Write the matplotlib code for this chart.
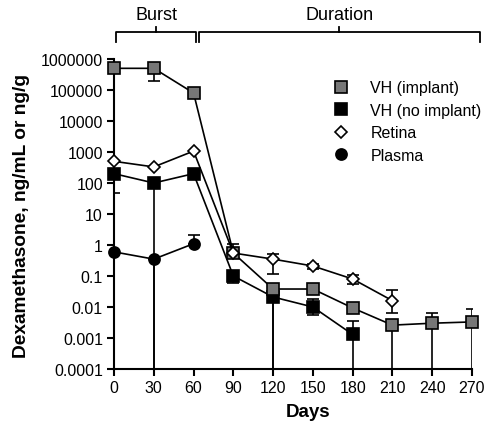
import numpy as np
import matplotlib
matplotlib.use("Agg")
import matplotlib.pyplot as plt
import matplotlib.transforms as mtrans
from matplotlib.ticker import FixedLocator, FixedFormatter, NullLocator

plt.rcParams['font.family'] = ['Liberation Sans', 'DejaVu Sans']

# VH (implant)
vh_imp_days = [0, 30, 60, 90, 120, 150, 180, 210, 240, 270]
vh_imp = [5.0e5, 5.0e5, 8.0e4, 0.55, 0.038, 0.038, 0.0093, 0.0026, 0.003, 0.0033]
vh_imp_lo = [5.0e5, 2.0e5, 8.0e4, 0.55, 1e-6, 0.038, 0.0093, 1e-6, 1e-6, 1e-6]
vh_imp_hi = [1.25e6, 5.0e5, 8.0e4, 0.55, 0.038, 0.038, 0.0093, 0.0026, 0.0065, 0.0086]

# VH (no implant)
vh_no_days = [0, 30, 60, 90, 120, 150, 180]
vh_no = [200, 100, 200, 0.1, 0.021, 0.010, 0.0013]
vh_no_lo = [48, 1e-6, 200, 0.06, 1e-6, 0.0055, 1e-6]
vh_no_hi = [200, 100, 200, 0.1, 0.021, 0.018, 0.0035]

# Retina
ret_days = [0, 30, 60, 90, 120, 150, 180, 210]
ret = [500, 330, 1070, 0.55, 0.35, 0.21, 0.08, 0.016]
ret_lo = [500, 330, 1070, 0.55, 0.12, 0.17, 0.057, 0.0065]
ret_hi = [500, 330, 1070, 1.1, 0.5, 0.25, 0.11, 0.035]

# Plasma
pl_days = [0, 30, 60]
pl = [0.6, 0.35, 1.1]
pl_lo = [1e-6, 1e-6, 1.1]
pl_hi = [0.6, 0.35, 2.1]

ytick_vals = [1e-4, 1e-3, 1e-2, 1e-1, 1, 10, 100, 1000, 10000, 100000, 1000000]
ytick_labels = ["0.0001", "0.001", "0.01", "0.1", "1", "10", "100", "1000",
                "10000", "100000", "1000000"]
xtick_vals = [0, 30, 60, 90, 120, 150, 180, 210, 240, 270]

fig = plt.figure(figsize=(4.86, 4.27), dpi=100)
ax = fig.add_axes([0.2346, 0.1335, 0.7365, 0.726])

lw = 1.2

def series(x, y, lo, hi, marker, fc, ms, label, z):
    y = np.array(y); lo = np.array(lo); hi = np.array(hi)
    yerr = np.vstack([y - lo, hi - y])
    ax.errorbar(x, y, yerr=yerr, fmt='none', ecolor='black', elinewidth=lw,
                capsize=4.5, capthick=lw, zorder=z)
    ax.plot(x, y, color='black', lw=lw, marker=marker, markersize=ms,
            markerfacecolor=fc, markeredgecolor='black', markeredgewidth=1.2,
            label=label, zorder=z + 0.5, clip_on=False)

series(pl_days, pl, pl_lo, pl_hi, 'o', 'black', 8, 'Plasma', 2)
series(vh_no_days, vh_no, vh_no_lo, vh_no_hi, 's', 'black', 8.5, 'VH (no implant)', 3)
series(vh_imp_days, vh_imp, vh_imp_lo, vh_imp_hi, 's', '#777777', 8.5, 'VH (implant)', 4)
series(ret_days, ret, ret_lo, ret_hi, 'D', 'white', 6.5, 'Retina', 5)

ax.set_yscale('log')
ax.set_ylim(1e-4, 1e6)
ax.set_xlim(0, 270)
ax.yaxis.set_major_locator(FixedLocator(ytick_vals))
ax.yaxis.set_major_formatter(FixedFormatter(ytick_labels))
ax.yaxis.set_minor_locator(NullLocator())
ax.set_xticks(xtick_vals)
ax.set_xticklabels([str(v) for v in xtick_vals])

for s in ['top', 'right']:
    ax.spines[s].set_visible(False)
for s in ['left', 'bottom']:
    ax.spines[s].set_linewidth(1.5)
ax.tick_params(direction='out', length=5, width=1.5, labelsize=11.5, pad=3)

ax.set_xlabel('Days', fontsize=13.5, fontweight='bold')
ax.set_ylabel('Dexamethasone, ng/mL or ng/g', fontsize=13.8, fontweight='bold')
# place labels (axes coords)
ax.xaxis.set_label_coords((308 - 114) / 358, -(404 - 370) / 310)
ax.yaxis.set_label_coords(-(114 - 30) / 358, (370 - 216) / 310)

handles, labels = ax.get_legend_handles_labels()
order = [2, 1, 3, 0]
leg = ax.legend([handles[i] for i in order], [labels[i] for i in order],
                loc='upper left', bbox_to_anchor=(0.58, 0.968), frameon=False,
                fontsize=11.5, handlelength=1.0, handletextpad=1.35, labelspacing=0.47,
                borderpad=0.2)
for h in leg.legend_handles:
    h.set_linestyle('none')

# Brackets
def bracket(x0, x1, label):
    blend = mtrans.blended_transform_factory(ax.transData, fig.transFigure)
    yh = 1 - 33 / 427
    yb = 1 - 43 / 427
    yt = 1 - 28 / 427
    xm = (x0 + x1) / 2
    ax.plot([x0, x0, x1, x1], [yb, yh, yh, yb], transform=blend, color='black',
            lw=1.3, clip_on=False, solid_joinstyle='round')
    ax.plot([xm, xm], [yh, yt], transform=blend, color='black', lw=1.3, clip_on=False)
    ax.text(xm, 1 - 16 / 427, label, transform=blend, ha='center', va='center',
            fontsize=13)

bracket(1.5, 62, 'Burst')
bracket(64, 276, 'Duration')

fig.savefig('out.png', dpi=100)
